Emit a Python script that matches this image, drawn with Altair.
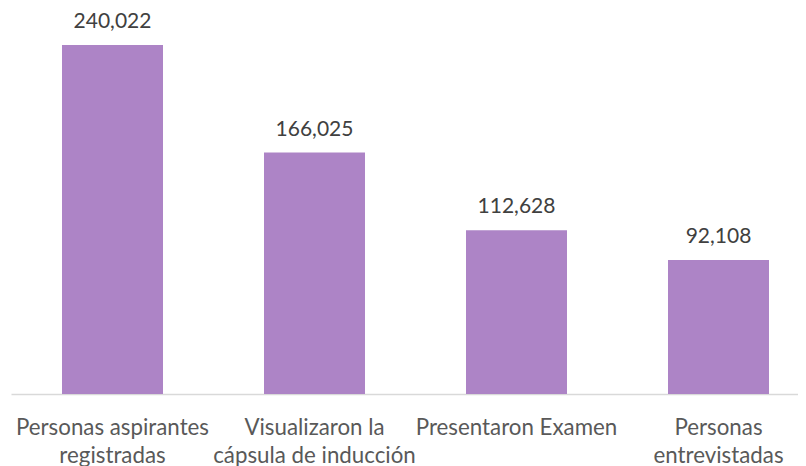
import altair as alt
import pandas as pd

categories = ["Personas aspirantes\nregistradas", "Visualizaron la\ncápsula de inducción",
              "Presentaron Examen", "Personas\nentrevistadas"]
values = [240022, 166025, 112628, 92108]
labels = ["240,022", "166,025", "112,628", "92,108"]

df = pd.DataFrame({"cat": categories, "val": values, "lab": labels})

FONT = "Lato"
x = alt.X("cat:N", sort=categories, title=None,
          scale=alt.Scale(paddingInner=0.5, paddingOuter=0.198, align=0.6375),
          axis=alt.Axis(labelAngle=0, labelExpr="split(datum.label, '\\n')",
                        labelFont=FONT, labelFontSize=22.3, labelColor="#595959",
                        labelLineHeight=28, labelPadding=22, labelLimit=0,
                        ticks=False, domainColor="#D9D9D9", domainWidth=1.5))
y = alt.Y("val:Q", title=None, axis=None,
          scale=alt.Scale(domain=[0, 265468], nice=False, zero=True))

bars = alt.Chart(df).mark_bar(color="#AD84C6").encode(x=x, y=y)
text = alt.Chart(df).mark_text(font=FONT, fontSize=21, color="#404040",
                               baseline="alphabetic", dy=-17).encode(
    x=alt.X("cat:N", sort=categories), y="val:Q", text="lab:N")

chart = (bars + text).properties(
    width=787, height=386,
    autosize=alt.AutoSizeParams(type="none"),
    padding={"left": 3, "top": 0, "right": 0, "bottom": 72},
).configure_view(stroke=None)

chart.save("out.html", embed_options={"renderer": "svg", "actions": False})
